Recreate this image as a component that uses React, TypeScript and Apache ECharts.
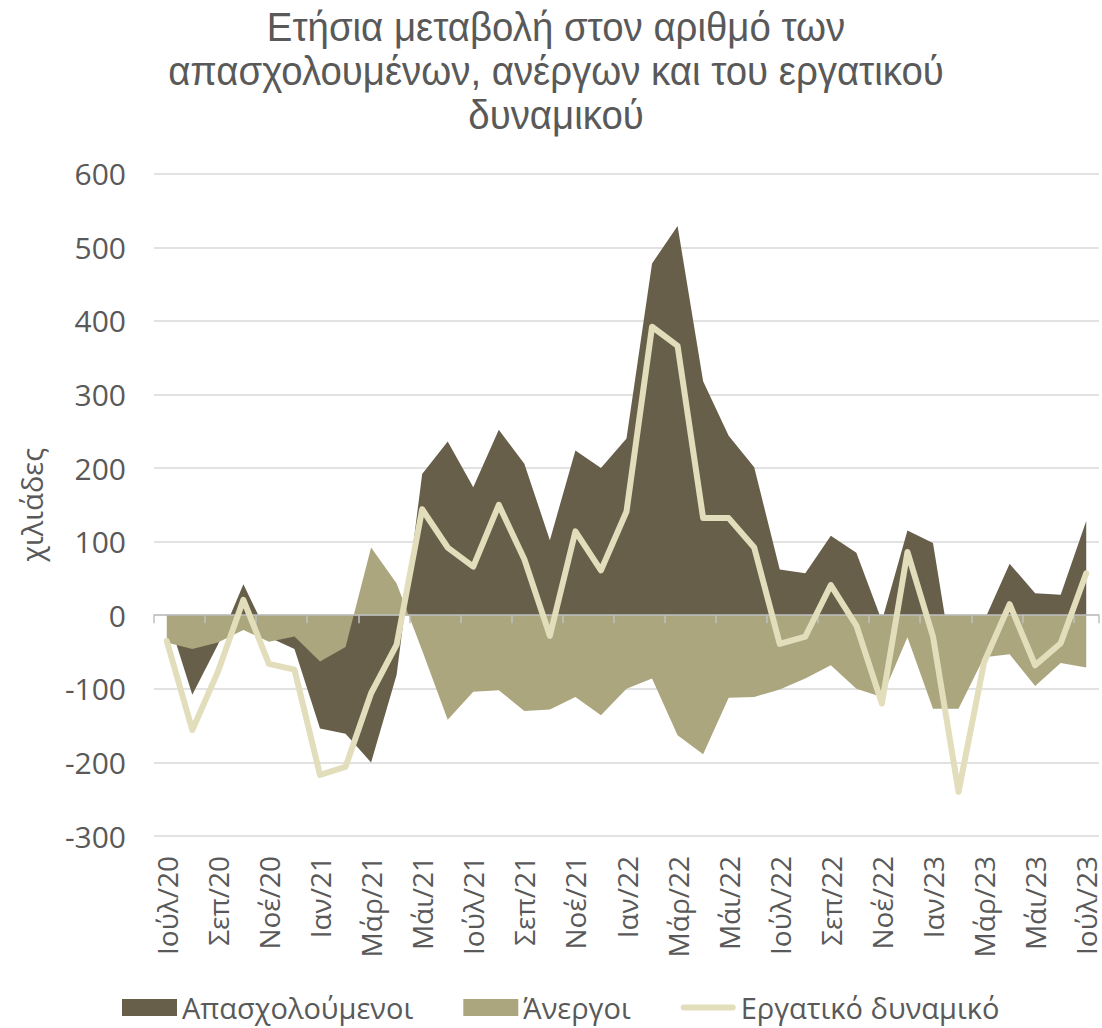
import React, { useEffect, useRef } from 'react';
import * as echarts from 'echarts';

const months = ['Ιούλ/20','Αύγ/20','Σεπ/20','Οκτ/20','Νοέ/20','Δεκ/20','Ιαν/21','Φεβ/21','Μάρ/21','Απρ/21','Μάι/21','Ιούν/21','Ιούλ/21','Αύγ/21','Σεπ/21','Οκτ/21','Νοέ/21','Δεκ/21','Ιαν/22','Φεβ/22','Μάρ/22','Απρ/22','Μάι/22','Ιούν/22','Ιούλ/22','Αύγ/22','Σεπ/22','Οκτ/22','Νοέ/22','Δεκ/22','Ιαν/23','Φεβ/23','Μάρ/23','Απρ/23','Μάι/23','Ιούν/23','Ιούλ/23'];

const employed = [2, -108, -40, 42, -30, -46, -154, -161, -200, -81, 192, 236, 174, 252, 206, 102, 224, 200, 240, 478, 529, 318, 244, 201, 62, 57, 108, 85, -8, 115, 98, -116, -8, 70, 30, 28, 128];
const unemployed = [-37, -46, -37, -20, -36, -29, -63, -43, 92, 43, -48, -142, -104, -102, -130, -128, -111, -136, -100, -86, -163, -189, -112, -111, -101, -86, -68, -100, -111, -30, -127, -127, -57, -53, -96, -65, -71];
const labourForce = [-35, -156, -77, 21, -66, -74, -217, -206, -106, -40, 144, 92, 66, 150, 76, -28, 114, 61, 141, 392, 366, 132, 132, 92, -39, -29, 41, -14, -120, 86, -29, -240, -64, 15, -68, -38, 57];

const yMin = -300;
const yMax = 600;
const yStep = 100;

const titleLines = ['Ετήσια μεταβολή στον αριθμό των', 'απασχολουμένων, ανέργων και του εργατικού', 'δυναμικού'];
const seriesNames = ['Απασχολούμενοι', 'Άνεργοι', 'Εργατικό δυναμικό'];
const yName = 'χιλιάδες';

const GRAY = '#595959';
const FONT = "'Open Sans', 'Noto Sans', sans-serif";
const DARK = '#675F4A';
const LIGHT = '#ABA67D';
const LINE = '#E2DDBB';

export default function App() {
  const ref = useRef<HTMLDivElement>(null);
  useEffect(() => {
    const chart = echarts.init(ref.current!, null, { renderer: 'svg' });
    chart.setOption({
      animation: false,
      backgroundColor: '#ffffff',
      textStyle: { fontFamily: FONT },
      graphic: [
        {
          type: 'text',
          x: 556,
          y: 5,
          scaleX: 0.96,
          style: {
            text: titleLines.join('\n'),
            fill: GRAY,
            font: "40px 'Liberation Sans', Arial, sans-serif",
            textAlign: 'center',
            textVerticalAlign: 'top',
            lineHeight: 44,
          },
        },
      ],
      grid: { left: 154, right: 3, top: 173.7, bottom: 192 },
      legend: {
        left: 122,
        top: 993,
        padding: 0,
        itemWidth: 55,
        itemHeight: 17,
        itemGap: 50,
        textStyle: { fontSize: 29, color: GRAY, fontFamily: FONT },
        data: [
          { name: seriesNames[0], icon: 'rect' },
          { name: seriesNames[1], icon: 'rect' },
          {
            name: seriesNames[2],
            icon: 'path://M3,0 H52 A3,3 0 0 1 52,6 H3 A3,3 0 0 1 3,0 Z',
            itemStyle: { color: LINE },
          },
        ],
      },
      xAxis: [
        {
          type: 'category',
          data: months,
          boundaryGap: true,
          axisLine: { show: false, onZero: false },
          axisTick: { show: false },
          splitLine: { show: false },
          axisLabel: { interval: 1, rotate: 90, fontSize: 28, lineHeight: 24, color: GRAY, margin: 20, fontFamily: FONT },
        },
        {
          type: 'category',
          data: months,
          position: 'bottom',
          boundaryGap: true,
          z: 5,
          axisLine: { show: true, onZero: true, lineStyle: { color: '#BFBFBF', width: 1.5 } },
          axisTick: { show: true, interval: 1, length: 8, lineStyle: { color: '#BFBFBF', width: 1.5 } },
          axisLabel: { show: false },
          splitLine: { show: false },
        },
      ],
      yAxis: {
        type: 'value',
        min: yMin,
        max: yMax,
        interval: yStep,
        axisLine: { show: false },
        axisTick: { show: false },
        axisLabel: { fontSize: 30, color: GRAY, margin: 28, fontFamily: FONT },
        splitLine: { lineStyle: { color: '#D9D9D9', width: 1.5 } },
        name: yName,
        nameLocation: 'middle',
        nameGap: 108,
        nameTextStyle: { fontSize: 29, color: GRAY, fontFamily: FONT },
      },
      series: [
        {
          name: seriesNames[0],
          type: 'line',
          data: employed,
          symbol: 'none',
          z: 1,
          lineStyle: { width: 0 },
          itemStyle: { color: DARK },
          areaStyle: { color: DARK, opacity: 1 },
        },
        {
          name: seriesNames[1],
          type: 'line',
          data: unemployed,
          symbol: 'none',
          z: 2,
          lineStyle: { width: 0 },
          itemStyle: { color: LIGHT },
          areaStyle: { color: LIGHT, opacity: 1 },
        },
        {
          name: seriesNames[2],
          type: 'line',
          data: labourForce,
          symbol: 'none',
          z: 10,
          itemStyle: { color: LINE },
          lineStyle: { width: 6, color: LINE, cap: 'round', join: 'round' },
        },
      ],
    });
    return () => chart.dispose();
  }, []);
  return (
    <div
      ref={ref}
      style={{ position: 'absolute', left: 0, top: 0, width: 1102, height: 1028, background: '#fff' }}
    />
  );
}
